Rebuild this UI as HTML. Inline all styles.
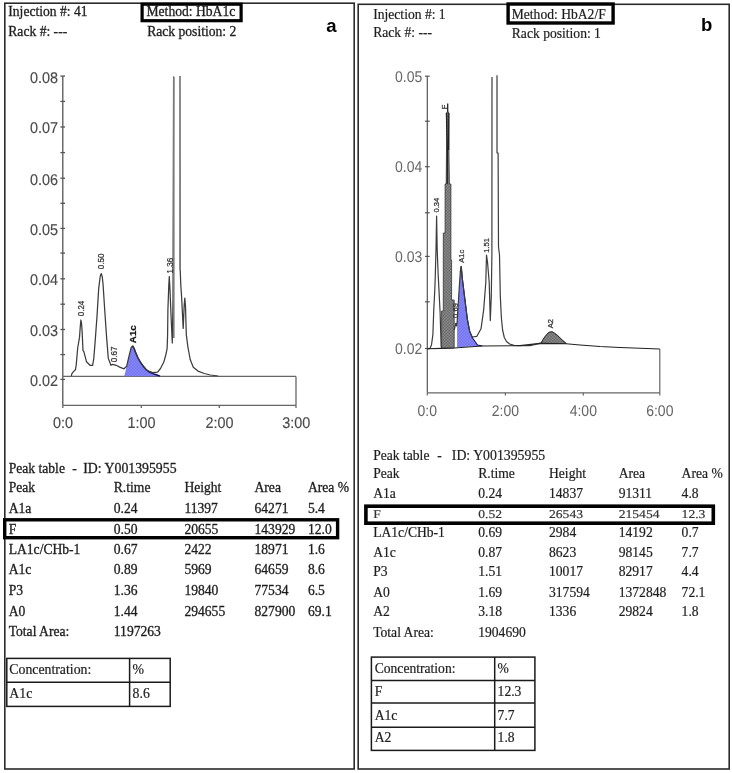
<!DOCTYPE html>
<html><head><meta charset="utf-8"><title>HbA1c chromatograms</title>
<style>
html,body{margin:0;padding:0;background:#fff;}
body{width:732px;height:773px;overflow:hidden;font-family:"Liberation Serif",serif;}
svg{display:block;filter:blur(0.45px);}
</style></head><body>
<svg width="732" height="773" viewBox="0 0 732 773">
<rect width="732" height="773" fill="#fff"/>
<defs>
<pattern id="blue" width="3" height="3" patternUnits="userSpaceOnUse"><rect width="3" height="3" fill="#7474f2"/><rect width="1.5" height="1.5" fill="#8888f6"/><rect x="1.5" y="1.5" width="1.5" height="1.5" fill="#8888f6"/></pattern>
<pattern id="grey" width="3" height="3" patternUnits="userSpaceOnUse"><rect width="3" height="3" fill="#6a6a6a"/><rect width="1.5" height="1.5" fill="#8a8a8a"/><rect x="1.5" y="1.5" width="1.5" height="1.5" fill="#8a8a8a"/></pattern>
</defs>
<rect x="4.8" y="3.2" width="349.4" height="765.8" fill="none" stroke="#2b2b2b" stroke-width="1.6"/>
<rect x="358.2" y="4.3" width="371" height="764.7" fill="none" stroke="#2b2b2b" stroke-width="1.6"/>
<text x="8.3" y="16.0" font-family='"Liberation Serif", serif' font-size="13.6" fill="#1e1e1e" stroke="#1e1e1e" stroke-width="0.3" >Injection #: 41</text>
<text x="8.3" y="36.3" font-family='"Liberation Serif", serif' font-size="13.6" fill="#1e1e1e" stroke="#1e1e1e" stroke-width="0.3" >Rack #: ---</text>
<text x="146.5" y="16.0" font-family='"Liberation Serif", serif' font-size="13.6" fill="#1e1e1e" stroke="#1e1e1e" stroke-width="0.3" >Method: HbA1c</text>
<text x="147.2" y="36.3" font-family='"Liberation Serif", serif' font-size="13.6" fill="#1e1e1e" stroke="#1e1e1e" stroke-width="0.3" >Rack position: 2</text>
<text x="326.3" y="31.6" font-family='"Liberation Sans", sans-serif' font-size="18.5" fill="#000"  font-weight="bold">a</text>
<rect x="142.1" y="4.2" width="99" height="16.5" fill="none" stroke="#000" stroke-width="3.2"/>
<text x="373.2" y="18.6" font-family='"Liberation Serif", serif' font-size="13.6" fill="#1e1e1e" stroke="#1e1e1e" stroke-width="0.2" >Injection #: 1</text>
<text x="373.2" y="37.3" font-family='"Liberation Serif", serif' font-size="13.6" fill="#1e1e1e" stroke="#1e1e1e" stroke-width="0.2" >Rack #: ---</text>
<text x="511.7" y="18.6" font-family='"Liberation Serif", serif' font-size="13.6" fill="#1e1e1e" stroke="#1e1e1e" stroke-width="0.2" >Method: HbA2/F</text>
<text x="511.8" y="37.5" font-family='"Liberation Serif", serif' font-size="13.6" fill="#1e1e1e" stroke="#1e1e1e" stroke-width="0.2" >Rack position: 1</text>
<text x="701.0" y="31.4" font-family='"Liberation Sans", sans-serif' font-size="18.5" fill="#000"  font-weight="bold">b</text>
<rect x="508.1" y="4.0" width="105" height="19.0" fill="none" stroke="#000" stroke-width="3.4"/>
<g stroke="#555" stroke-width="1.3" fill="none">
<line x1="62.8" y1="76.1" x2="62.8" y2="405.4"/>
<line x1="60.4" y1="76.1" x2="65.0" y2="76.1"/>
<line x1="60.4" y1="101.4" x2="65.0" y2="101.4"/>
<line x1="60.4" y1="127.0" x2="65.0" y2="127.0"/>
<line x1="60.4" y1="152.6" x2="65.0" y2="152.6"/>
<line x1="60.4" y1="178.2" x2="65.0" y2="178.2"/>
<line x1="60.4" y1="203.3" x2="65.0" y2="203.3"/>
<line x1="60.4" y1="228.4" x2="65.0" y2="228.4"/>
<line x1="60.4" y1="253.1" x2="65.0" y2="253.1"/>
<line x1="60.4" y1="278.8" x2="65.0" y2="278.8"/>
<line x1="60.4" y1="304.2" x2="65.0" y2="304.2"/>
<line x1="60.4" y1="329.5" x2="65.0" y2="329.5"/>
<line x1="60.4" y1="354.6" x2="65.0" y2="354.6"/>
<line x1="60.4" y1="379.4" x2="65.0" y2="379.4"/>
</g>
<text x="0" y="0" transform="translate(58.0,82.5) scale(1,1.08)" font-family='"Liberation Sans", sans-serif' font-size="14.4" fill="#4a4a4a" stroke="#4a4a4a" stroke-width="0.15" text-rendering="geometricPrecision" text-anchor="end">0.08</text>
<text x="0" y="0" transform="translate(58.0,133.4) scale(1,1.08)" font-family='"Liberation Sans", sans-serif' font-size="14.4" fill="#4a4a4a" stroke="#4a4a4a" stroke-width="0.15" text-rendering="geometricPrecision" text-anchor="end">0.07</text>
<text x="0" y="0" transform="translate(58.0,184.6) scale(1,1.08)" font-family='"Liberation Sans", sans-serif' font-size="14.4" fill="#4a4a4a" stroke="#4a4a4a" stroke-width="0.15" text-rendering="geometricPrecision" text-anchor="end">0.06</text>
<text x="0" y="0" transform="translate(58.0,234.8) scale(1,1.08)" font-family='"Liberation Sans", sans-serif' font-size="14.4" fill="#4a4a4a" stroke="#4a4a4a" stroke-width="0.15" text-rendering="geometricPrecision" text-anchor="end">0.05</text>
<text x="0" y="0" transform="translate(58.0,285.2) scale(1,1.08)" font-family='"Liberation Sans", sans-serif' font-size="14.4" fill="#4a4a4a" stroke="#4a4a4a" stroke-width="0.15" text-rendering="geometricPrecision" text-anchor="end">0.04</text>
<text x="0" y="0" transform="translate(58.0,335.9) scale(1,1.08)" font-family='"Liberation Sans", sans-serif' font-size="14.4" fill="#4a4a4a" stroke="#4a4a4a" stroke-width="0.15" text-rendering="geometricPrecision" text-anchor="end">0.03</text>
<text x="0" y="0" transform="translate(58.0,385.8) scale(1,1.08)" font-family='"Liberation Sans", sans-serif' font-size="14.4" fill="#4a4a4a" stroke="#4a4a4a" stroke-width="0.15" text-rendering="geometricPrecision" text-anchor="end">0.02</text>
<g stroke="#666" stroke-width="1.3" fill="none">
<line x1="62.8" y1="376.4" x2="296" y2="376.4"/>
<line x1="296" y1="376.4" x2="296" y2="405.4"/>
<line x1="62.8" y1="405.4" x2="296" y2="405.4"/>
<line x1="62.8" y1="405.4" x2="62.8" y2="408.0"/>
<line x1="141.3" y1="405.4" x2="141.3" y2="408.0"/>
<line x1="219.3" y1="405.4" x2="219.3" y2="408.0"/>
<line x1="296.0" y1="405.4" x2="296.0" y2="408.0"/>
</g>
<text x="0" y="0" transform="translate(63.1,428.2) scale(1,1.08)" font-family='"Liberation Sans", sans-serif' font-size="14.4" fill="#4a4a4a" stroke="#4a4a4a" stroke-width="0.15" text-rendering="geometricPrecision" text-anchor="middle">0:0</text>
<text x="0" y="0" transform="translate(141.6,428.2) scale(1,1.08)" font-family='"Liberation Sans", sans-serif' font-size="14.4" fill="#4a4a4a" stroke="#4a4a4a" stroke-width="0.15" text-rendering="geometricPrecision" text-anchor="middle">1:00</text>
<text x="0" y="0" transform="translate(219.6,428.2) scale(1,1.08)" font-family='"Liberation Sans", sans-serif' font-size="14.4" fill="#4a4a4a" stroke="#4a4a4a" stroke-width="0.15" text-rendering="geometricPrecision" text-anchor="middle">2:00</text>
<text x="0" y="0" transform="translate(296.3,428.2) scale(1,1.08)" font-family='"Liberation Sans", sans-serif' font-size="14.4" fill="#4a4a4a" stroke="#4a4a4a" stroke-width="0.15" text-rendering="geometricPrecision" text-anchor="middle">3:00</text>
<polygon points="124.2,376.2 126.7,366.2 129.3,354.9 131.2,347.5 132.6,345.9 134.2,348.5 135.4,352.1 138.0,358.0 140.5,362.3 143.5,366.5 146.0,369.5 149.0,371.8 153.0,373.6 157.0,375.0 160.0,376.2" fill="url(#blue)" stroke="none"/>
<polyline points="132.6,345.9 134.2,348.5 135.4,352.1 138.0,358.0 140.5,362.3 143.5,366.5 146.0,369.5 149.0,371.8 153.0,373.6 157.0,375.0 160.0,376.2" fill="none" stroke="#141450" stroke-width="1.4"/>
<polyline points="71.3,376.0 71.9,373.7 73.5,371.6 75.4,369.8 76.2,365.0 77.7,348.0 79.5,337.4 80.4,325.0 80.9,320.0 81.5,323.0 82.1,331.0 83.0,350.5 83.8,351.4 86.5,361.8 90.0,365.3 92.6,365.3 93.8,358.4 95.2,340.9 97.0,316.4 98.7,288.4 100.3,276.0 101.3,273.6 102.3,277.0 103.1,285.0 104.8,311.2 106.6,337.4 108.3,358.4 110.9,365.3 112.7,364.3 116.2,365.3 119.7,367.1 124.0,368.8 126.7,366.2 129.3,354.9 131.2,347.5 132.6,345.9 134.2,348.5 135.4,352.1 138.0,358.0 140.5,362.3 143.5,366.5 146.0,369.5 148.7,371.2 152.8,372.6 157.6,372.2 160.5,368.5 163.7,362.3 165.8,355.0 167.1,348.7 167.6,335.0 167.9,310.0 168.8,285.0 169.3,276.5 170.0,290.0 171.0,315.0 172.3,343.0 173.0,300.0 173.6,76.5" fill="none" stroke="#3c3c3c" stroke-width="1.25" stroke-linejoin="round"/>
<polyline points="179.9,76.0 180.2,270.0 180.8,285.0 181.6,297.0 183.2,328.4 184.2,305.0 184.8,298.1 185.5,306.6 186.3,334.6 187.9,347.0 190.2,359.5 193.3,367.3 198.0,371.1 204.2,373.5 210.4,375.0 218.2,376.0" fill="none" stroke="#3c3c3c" stroke-width="1.25" stroke-linejoin="round"/>
<line x1="173.8" y1="77" x2="173.8" y2="338" stroke="#7a7a7a" stroke-width="1.6"/>
<line x1="179.8" y1="76.2" x2="179.8" y2="270" stroke="#8a8a8a" stroke-width="1.6"/>
<text x="0" y="0" font-family='"Liberation Sans", sans-serif' font-size="9.2" fill="#333" stroke="#333" stroke-width="0.25"  text-anchor="middle" transform="translate(83.6,308.5) rotate(-90) scale(0.88,1)">0.24</text>
<text x="0" y="0" font-family='"Liberation Sans", sans-serif' font-size="9.2" fill="#333" stroke="#333" stroke-width="0.25"  text-anchor="middle" transform="translate(104.3,261.4) rotate(-90) scale(0.88,1)">0.50</text>
<text x="0" y="0" font-family='"Liberation Sans", sans-serif' font-size="9.2" fill="#333" stroke="#333" stroke-width="0.25"  text-anchor="middle" transform="translate(116.7,354.4) rotate(-90) scale(0.88,1)">0.67</text>
<text x="0" y="0" font-family='"Liberation Sans", sans-serif' font-size="9.8" fill="#111" stroke="#111" stroke-width="0.25" font-weight="bold" text-anchor="middle" transform="translate(135.5,334.2) rotate(-90) scale(1.0,1)">A1c</text>
<text x="0" y="0" font-family='"Liberation Sans", sans-serif' font-size="9.2" fill="#333" stroke="#333" stroke-width="0.25"  text-anchor="middle" transform="translate(172.5,265.7) rotate(-90) scale(0.88,1)">1.36</text>
<g stroke="#555" stroke-width="1.2" fill="none">
<line x1="427.3" y1="76.2" x2="427.3" y2="392.8"/>
<line x1="425.0" y1="76.2" x2="429.7" y2="76.2"/>
<line x1="425.0" y1="121.2" x2="429.7" y2="121.2"/>
<line x1="425.0" y1="166.7" x2="429.7" y2="166.7"/>
<line x1="425.0" y1="212.8" x2="429.7" y2="212.8"/>
<line x1="425.0" y1="256.4" x2="429.7" y2="256.4"/>
<line x1="425.0" y1="301.8" x2="429.7" y2="301.8"/>
<line x1="425.0" y1="348.5" x2="429.7" y2="348.5"/>
</g>
<text x="0" y="0" transform="translate(422.2,81.8) scale(1,1.11)" font-family='"Liberation Sans", sans-serif' font-size="14.0" fill="#666"  text-rendering="geometricPrecision" text-anchor="end">0.05</text>
<text x="0" y="0" transform="translate(422.2,172.3) scale(1,1.11)" font-family='"Liberation Sans", sans-serif' font-size="14.0" fill="#666"  text-rendering="geometricPrecision" text-anchor="end">0.04</text>
<text x="0" y="0" transform="translate(422.2,262.0) scale(1,1.11)" font-family='"Liberation Sans", sans-serif' font-size="14.0" fill="#666"  text-rendering="geometricPrecision" text-anchor="end">0.03</text>
<text x="0" y="0" transform="translate(422.2,354.1) scale(1,1.11)" font-family='"Liberation Sans", sans-serif' font-size="14.0" fill="#666"  text-rendering="geometricPrecision" text-anchor="end">0.02</text>
<g stroke="#666" stroke-width="1.2" fill="none">
<line x1="427.3" y1="392.8" x2="659.8" y2="392.8"/>
<line x1="659.8" y1="349" x2="659.8" y2="392.8"/>
<line x1="427.3" y1="392.8" x2="427.3" y2="395.4"/>
<line x1="505.4" y1="392.8" x2="505.4" y2="395.4"/>
<line x1="583.3" y1="392.8" x2="583.3" y2="395.4"/>
<line x1="659.8" y1="392.8" x2="659.8" y2="395.4"/>
</g>
<text x="0" y="0" transform="translate(427.3,415.8) scale(1,1.11)" font-family='"Liberation Sans", sans-serif' font-size="14.0" fill="#636363"  text-rendering="geometricPrecision" text-anchor="middle">0:0</text>
<text x="0" y="0" transform="translate(505.4,415.8) scale(1,1.11)" font-family='"Liberation Sans", sans-serif' font-size="14.0" fill="#636363"  text-rendering="geometricPrecision" text-anchor="middle">2:00</text>
<text x="0" y="0" transform="translate(583.3,415.8) scale(1,1.11)" font-family='"Liberation Sans", sans-serif' font-size="14.0" fill="#636363"  text-rendering="geometricPrecision" text-anchor="middle">4:00</text>
<text x="0" y="0" transform="translate(659.8,415.8) scale(1,1.11)" font-family='"Liberation Sans", sans-serif' font-size="14.0" fill="#636363"  text-rendering="geometricPrecision" text-anchor="middle">6:00</text>
<polygon points="441.6,348.4 441.6,311.0 443.3,311.0 443.3,233.0 445.1,233.0 445.1,184.0 446.2,184.0 446.5,150.0 446.9,112.0 448.6,112.0 448.9,150.0 449.4,184.0 450.9,184.0 450.9,260.0 451.6,260.0 451.6,300.0 454.2,300.0 454.2,348.0" fill="url(#grey)" stroke="#333" stroke-width="0.8"/>
<path d="M447.7 103.5 L447.7 112 M446.4 113 L447.4 150 L447.2 184 M448.9 113 L448.6 150" stroke="#222" stroke-width="1.3" fill="none"/>
<polygon points="457.1,347.2 457.1,322.7 459.1,290.0 460.3,272.0 461.2,266.4 462.5,280.0 464.9,299.4 467.3,318.8 469.7,331.5 472.7,338.3 477.5,345.0 482.4,346.0" fill="url(#blue)" stroke="none"/>
<polyline points="460.3,272.0 461.2,266.4 462.5,280.0 464.9,299.4 467.3,318.8 469.7,331.5 472.7,338.3 477.5,345.0 482.4,346.0" fill="none" stroke="#141450" stroke-width="1.1"/>
<polygon points="541.0,343.2 543.0,339.5 545.0,336.6 548.5,332.5 551.9,331.7 554.5,333.2 557.4,335.3 562.2,340.0 566.3,343.5 553.0,343.4" fill="url(#grey)" stroke="#444" stroke-width="0.8"/>
<polyline points="427.5,348.8 430.0,348.3 431.5,345.0 432.9,334.4 433.8,309.0 434.8,289.7 435.3,275.0 436.0,250.0 436.6,216.0 437.2,250.0 438.2,275.0 439.2,294.6 440.1,312.0 440.6,328.5 441.1,346.0 441.6,348.4" fill="none" stroke="#3c3c3c" stroke-width="1.2" stroke-linejoin="round"/>
<polyline points="454.2,330.0 455.7,323.3 456.6,326.0 457.1,322.7 459.1,290.0 460.3,272.0 461.2,266.4 462.5,280.0 464.9,299.4 467.3,318.8 469.7,331.5 472.1,337.0 476.9,336.3 481.0,328.8 483.7,309.6 485.8,282.3 486.5,255.0 487.5,262.0 489.2,282.3 490.3,320.6 491.3,296.0 491.9,255.0 492.0,77.0" fill="none" stroke="#3c3c3c" stroke-width="1.2" stroke-linejoin="round"/>
<polyline points="497.0,75.3 497.0,152.8 498.1,153.0 498.5,246.7 499.5,255.0 500.3,296.0 501.4,318.0 502.6,330.0 504.3,337.5 506.5,341.5 509.6,344.0 514.0,345.3 520.6,345.6 530.0,345.6 541.0,343.2" fill="none" stroke="#3c3c3c" stroke-width="1.2" stroke-linejoin="round"/>
<polyline points="427.5,348.8 441.6,348.4 454.2,348.0 482.4,346.0 520.0,345.6 540.0,343.4 566.2,343.7 580.0,345.0 600.0,346.5 620.0,347.5 640.0,348.3 659.8,349.0" fill="none" stroke="#222" stroke-width="1.1" stroke-linejoin="round"/>
<polyline points="541.0,343.2 543.0,339.5 545.0,336.6 548.5,332.5 551.9,331.7 554.5,333.2 557.4,335.3 562.2,340.0 566.3,343.5" fill="none" stroke="#333" stroke-width="1"/>
<text x="0" y="0" font-family='"Liberation Sans", sans-serif' font-size="7.6" fill="#333" stroke="#333" stroke-width="0.25"  text-anchor="middle" transform="translate(438.7,205.2) rotate(-90) scale(1.0,1)">0.34</text>
<text x="0" y="0" font-family='"Liberation Sans", sans-serif' font-size="7.6" fill="#333" stroke="#333" stroke-width="0.25"  text-anchor="middle" transform="translate(447.3,107.0) rotate(-90) scale(1.0,1)">F</text>
<text x="0" y="0" font-family='"Liberation Sans", sans-serif' font-size="7.6" fill="#333" stroke="#333" stroke-width="0.25"  text-anchor="middle" transform="translate(457.7,310.5) rotate(-90) scale(1.0,1)">0.69</text>
<text x="0" y="0" font-family='"Liberation Sans", sans-serif' font-size="7.6" fill="#333" stroke="#333" stroke-width="0.25"  text-anchor="middle" transform="translate(463.7,256.3) rotate(-90) scale(1.0,1)">A1c</text>
<text x="0" y="0" font-family='"Liberation Sans", sans-serif' font-size="7.6" fill="#333" stroke="#333" stroke-width="0.25"  text-anchor="middle" transform="translate(488.5,245.4) rotate(-90) scale(1.0,1)">1.51</text>
<text x="0" y="0" font-family='"Liberation Sans", sans-serif' font-size="7.6" fill="#333" stroke="#333" stroke-width="0.25"  text-anchor="middle" transform="translate(552.5,323.6) rotate(-90) scale(1.0,1)">A2</text>
<text x="8.7" y="472.8" font-family='"Liberation Serif", serif' font-size="13.6" fill="#1e1e1e" stroke="#1e1e1e" stroke-width="0.3" >Peak table</text>
<text x="72.2" y="472.8" font-family='"Liberation Serif", serif' font-size="13.6" fill="#1e1e1e" stroke="#1e1e1e" stroke-width="0.3" >-</text>
<text x="83.2" y="472.8" font-family='"Liberation Serif", serif' font-size="13.8" fill="#1e1e1e" stroke="#1e1e1e" stroke-width="0.3" >ID: Y001395955</text>
<text x="8.7" y="492.4" font-family='"Liberation Serif", serif' font-size="13.6" fill="#1e1e1e" stroke="#1e1e1e" stroke-width="0.3" >Peak</text>
<text x="113.8" y="492.4" font-family='"Liberation Serif", serif' font-size="13.6" fill="#1e1e1e" stroke="#1e1e1e" stroke-width="0.3" >R.time</text>
<text x="184.4" y="492.4" font-family='"Liberation Serif", serif' font-size="13.6" fill="#1e1e1e" stroke="#1e1e1e" stroke-width="0.3" >Height</text>
<text x="254.5" y="492.4" font-family='"Liberation Serif", serif' font-size="13.6" fill="#1e1e1e" stroke="#1e1e1e" stroke-width="0.3" >Area</text>
<text x="307.9" y="492.4" font-family='"Liberation Serif", serif' font-size="13.6" fill="#1e1e1e" stroke="#1e1e1e" stroke-width="0.3" >Area %</text>
<text x="8.7" y="512.8" font-family='"Liberation Serif", serif' font-size="13.6" fill="#1e1e1e" stroke="#1e1e1e" stroke-width="0.3" >A1a</text>
<text x="113.8" y="512.8" font-family='"Liberation Serif", serif' font-size="13.6" fill="#1e1e1e" stroke="#1e1e1e" stroke-width="0.3" >0.24</text>
<text x="184.4" y="512.8" font-family='"Liberation Serif", serif' font-size="13.6" fill="#1e1e1e" stroke="#1e1e1e" stroke-width="0.3" >11397</text>
<text x="254.5" y="512.8" font-family='"Liberation Serif", serif' font-size="13.6" fill="#1e1e1e" stroke="#1e1e1e" stroke-width="0.3" >64271</text>
<text x="307.9" y="512.8" font-family='"Liberation Serif", serif' font-size="13.6" fill="#1e1e1e" stroke="#1e1e1e" stroke-width="0.3" >5.4</text>
<text x="8.7" y="534.1" font-family='"Liberation Serif", serif' font-size="13.6" fill="#1e1e1e" stroke="#1e1e1e" stroke-width="0.3" >F</text>
<text x="113.8" y="534.1" font-family='"Liberation Serif", serif' font-size="13.6" fill="#1e1e1e" stroke="#1e1e1e" stroke-width="0.3" >0.50</text>
<text x="184.4" y="534.1" font-family='"Liberation Serif", serif' font-size="13.6" fill="#1e1e1e" stroke="#1e1e1e" stroke-width="0.3" >20655</text>
<text x="254.5" y="534.1" font-family='"Liberation Serif", serif' font-size="13.6" fill="#1e1e1e" stroke="#1e1e1e" stroke-width="0.3" >143929</text>
<text x="307.9" y="534.1" font-family='"Liberation Serif", serif' font-size="13.6" fill="#1e1e1e" stroke="#1e1e1e" stroke-width="0.3" >12.0</text>
<text x="8.7" y="554.4" font-family='"Liberation Serif", serif' font-size="13.6" fill="#1e1e1e" stroke="#1e1e1e" stroke-width="0.3" >LA1c/CHb-1</text>
<text x="113.8" y="554.4" font-family='"Liberation Serif", serif' font-size="13.6" fill="#1e1e1e" stroke="#1e1e1e" stroke-width="0.3" >0.67</text>
<text x="184.4" y="554.4" font-family='"Liberation Serif", serif' font-size="13.6" fill="#1e1e1e" stroke="#1e1e1e" stroke-width="0.3" >2422</text>
<text x="254.5" y="554.4" font-family='"Liberation Serif", serif' font-size="13.6" fill="#1e1e1e" stroke="#1e1e1e" stroke-width="0.3" >18971</text>
<text x="307.9" y="554.4" font-family='"Liberation Serif", serif' font-size="13.6" fill="#1e1e1e" stroke="#1e1e1e" stroke-width="0.3" >1.6</text>
<text x="8.7" y="574.3" font-family='"Liberation Serif", serif' font-size="13.6" fill="#1e1e1e" stroke="#1e1e1e" stroke-width="0.3" >A1c</text>
<text x="113.8" y="574.3" font-family='"Liberation Serif", serif' font-size="13.6" fill="#1e1e1e" stroke="#1e1e1e" stroke-width="0.3" >0.89</text>
<text x="184.4" y="574.3" font-family='"Liberation Serif", serif' font-size="13.6" fill="#1e1e1e" stroke="#1e1e1e" stroke-width="0.3" >5969</text>
<text x="254.5" y="574.3" font-family='"Liberation Serif", serif' font-size="13.6" fill="#1e1e1e" stroke="#1e1e1e" stroke-width="0.3" >64659</text>
<text x="307.9" y="574.3" font-family='"Liberation Serif", serif' font-size="13.6" fill="#1e1e1e" stroke="#1e1e1e" stroke-width="0.3" >8.6</text>
<text x="8.7" y="594.8" font-family='"Liberation Serif", serif' font-size="13.6" fill="#1e1e1e" stroke="#1e1e1e" stroke-width="0.3" >P3</text>
<text x="113.8" y="594.8" font-family='"Liberation Serif", serif' font-size="13.6" fill="#1e1e1e" stroke="#1e1e1e" stroke-width="0.3" >1.36</text>
<text x="184.4" y="594.8" font-family='"Liberation Serif", serif' font-size="13.6" fill="#1e1e1e" stroke="#1e1e1e" stroke-width="0.3" >19840</text>
<text x="254.5" y="594.8" font-family='"Liberation Serif", serif' font-size="13.6" fill="#1e1e1e" stroke="#1e1e1e" stroke-width="0.3" >77534</text>
<text x="307.9" y="594.8" font-family='"Liberation Serif", serif' font-size="13.6" fill="#1e1e1e" stroke="#1e1e1e" stroke-width="0.3" >6.5</text>
<text x="8.7" y="615.6" font-family='"Liberation Serif", serif' font-size="13.6" fill="#1e1e1e" stroke="#1e1e1e" stroke-width="0.3" >A0</text>
<text x="113.8" y="615.6" font-family='"Liberation Serif", serif' font-size="13.6" fill="#1e1e1e" stroke="#1e1e1e" stroke-width="0.3" >1.44</text>
<text x="184.4" y="615.6" font-family='"Liberation Serif", serif' font-size="13.6" fill="#1e1e1e" stroke="#1e1e1e" stroke-width="0.3" >294655</text>
<text x="254.5" y="615.6" font-family='"Liberation Serif", serif' font-size="13.6" fill="#1e1e1e" stroke="#1e1e1e" stroke-width="0.3" >827900</text>
<text x="307.9" y="615.6" font-family='"Liberation Serif", serif' font-size="13.6" fill="#1e1e1e" stroke="#1e1e1e" stroke-width="0.3" >69.1</text>
<text x="8.7" y="636.0" font-family='"Liberation Serif", serif' font-size="13.6" fill="#1e1e1e" stroke="#1e1e1e" stroke-width="0.3" >Total Area:</text>
<text x="113.8" y="636.0" font-family='"Liberation Serif", serif' font-size="13.6" fill="#1e1e1e" stroke="#1e1e1e" stroke-width="0.3" >1197263</text>
<rect x="4.7" y="519.8" width="332.9" height="17.9" fill="none" stroke="#000" stroke-width="3.4"/>
<text x="373.2" y="459.6" font-family='"Liberation Serif", serif' font-size="13.6" fill="#1e1e1e" stroke="#1e1e1e" stroke-width="0.2" >Peak table</text>
<text x="437.3" y="459.6" font-family='"Liberation Serif", serif' font-size="13.6" fill="#1e1e1e" stroke="#1e1e1e" stroke-width="0.2" >-</text>
<text x="451.8" y="459.6" font-family='"Liberation Serif", serif' font-size="13.8" fill="#1e1e1e" stroke="#1e1e1e" stroke-width="0.2" >ID: Y001395955</text>
<text x="373.2" y="478.3" font-family='"Liberation Serif", serif' font-size="13.6" fill="#1e1e1e" stroke="#1e1e1e" stroke-width="0.2" >Peak</text>
<text x="478.2" y="478.3" font-family='"Liberation Serif", serif' font-size="13.6" fill="#1e1e1e" stroke="#1e1e1e" stroke-width="0.2" >R.time</text>
<text x="549.0" y="478.3" font-family='"Liberation Serif", serif' font-size="13.6" fill="#1e1e1e" stroke="#1e1e1e" stroke-width="0.2" >Height</text>
<text x="618.7" y="478.3" font-family='"Liberation Serif", serif' font-size="13.6" fill="#1e1e1e" stroke="#1e1e1e" stroke-width="0.2" >Area</text>
<text x="681.6" y="478.3" font-family='"Liberation Serif", serif' font-size="13.6" fill="#1e1e1e" stroke="#1e1e1e" stroke-width="0.2" >Area %</text>
<text x="373.2" y="497.9" font-family='"Liberation Serif", serif' font-size="13.6" fill="#1e1e1e" stroke="#1e1e1e" stroke-width="0.2" >A1a</text>
<text x="478.2" y="497.9" font-family='"Liberation Serif", serif' font-size="13.6" fill="#1e1e1e" stroke="#1e1e1e" stroke-width="0.2" >0.24</text>
<text x="549.0" y="497.9" font-family='"Liberation Serif", serif' font-size="13.6" fill="#1e1e1e" stroke="#1e1e1e" stroke-width="0.2" >14837</text>
<text x="618.7" y="497.9" font-family='"Liberation Serif", serif' font-size="13.6" fill="#1e1e1e" stroke="#1e1e1e" stroke-width="0.2" >91311</text>
<text x="681.6" y="497.9" font-family='"Liberation Serif", serif' font-size="13.6" fill="#1e1e1e" stroke="#1e1e1e" stroke-width="0.2" >4.8</text>
<text x="0" y="0" transform="translate(373.2,517.9) scale(1,0.88)" font-family='"Liberation Serif", serif' font-size="13.6" fill="#333" stroke="#333" stroke-width="0.2" text-rendering="geometricPrecision" >F</text>
<text x="0" y="0" transform="translate(478.2,517.9) scale(1,0.88)" font-family='"Liberation Serif", serif' font-size="13.6" fill="#333" stroke="#333" stroke-width="0.2" text-rendering="geometricPrecision" >0.52</text>
<text x="0" y="0" transform="translate(549.0,517.9) scale(1,0.88)" font-family='"Liberation Serif", serif' font-size="13.6" fill="#333" stroke="#333" stroke-width="0.2" text-rendering="geometricPrecision" >26543</text>
<text x="0" y="0" transform="translate(618.7,517.9) scale(1,0.88)" font-family='"Liberation Serif", serif' font-size="13.6" fill="#333" stroke="#333" stroke-width="0.2" text-rendering="geometricPrecision" >215454</text>
<text x="0" y="0" transform="translate(681.6,517.9) scale(1,0.88)" font-family='"Liberation Serif", serif' font-size="13.6" fill="#333" stroke="#333" stroke-width="0.2" text-rendering="geometricPrecision" >12.3</text>
<text x="373.2" y="537.0" font-family='"Liberation Serif", serif' font-size="13.6" fill="#1e1e1e" stroke="#1e1e1e" stroke-width="0.2" >LA1c/CHb-1</text>
<text x="478.2" y="537.0" font-family='"Liberation Serif", serif' font-size="13.6" fill="#1e1e1e" stroke="#1e1e1e" stroke-width="0.2" >0.69</text>
<text x="549.0" y="537.0" font-family='"Liberation Serif", serif' font-size="13.6" fill="#1e1e1e" stroke="#1e1e1e" stroke-width="0.2" >2984</text>
<text x="618.7" y="537.0" font-family='"Liberation Serif", serif' font-size="13.6" fill="#1e1e1e" stroke="#1e1e1e" stroke-width="0.2" >14192</text>
<text x="681.6" y="537.0" font-family='"Liberation Serif", serif' font-size="13.6" fill="#1e1e1e" stroke="#1e1e1e" stroke-width="0.2" >0.7</text>
<text x="373.2" y="557.0" font-family='"Liberation Serif", serif' font-size="13.6" fill="#1e1e1e" stroke="#1e1e1e" stroke-width="0.2" >A1c</text>
<text x="478.2" y="557.0" font-family='"Liberation Serif", serif' font-size="13.6" fill="#1e1e1e" stroke="#1e1e1e" stroke-width="0.2" >0.87</text>
<text x="549.0" y="557.0" font-family='"Liberation Serif", serif' font-size="13.6" fill="#1e1e1e" stroke="#1e1e1e" stroke-width="0.2" >8623</text>
<text x="618.7" y="557.0" font-family='"Liberation Serif", serif' font-size="13.6" fill="#1e1e1e" stroke="#1e1e1e" stroke-width="0.2" >98145</text>
<text x="681.6" y="557.0" font-family='"Liberation Serif", serif' font-size="13.6" fill="#1e1e1e" stroke="#1e1e1e" stroke-width="0.2" >7.7</text>
<text x="373.2" y="576.0" font-family='"Liberation Serif", serif' font-size="13.6" fill="#1e1e1e" stroke="#1e1e1e" stroke-width="0.2" >P3</text>
<text x="478.2" y="576.0" font-family='"Liberation Serif", serif' font-size="13.6" fill="#1e1e1e" stroke="#1e1e1e" stroke-width="0.2" >1.51</text>
<text x="549.0" y="576.0" font-family='"Liberation Serif", serif' font-size="13.6" fill="#1e1e1e" stroke="#1e1e1e" stroke-width="0.2" >10017</text>
<text x="618.7" y="576.0" font-family='"Liberation Serif", serif' font-size="13.6" fill="#1e1e1e" stroke="#1e1e1e" stroke-width="0.2" >82917</text>
<text x="681.6" y="576.0" font-family='"Liberation Serif", serif' font-size="13.6" fill="#1e1e1e" stroke="#1e1e1e" stroke-width="0.2" >4.4</text>
<text x="373.2" y="596.6" font-family='"Liberation Serif", serif' font-size="13.6" fill="#1e1e1e" stroke="#1e1e1e" stroke-width="0.2" >A0</text>
<text x="478.2" y="596.6" font-family='"Liberation Serif", serif' font-size="13.6" fill="#1e1e1e" stroke="#1e1e1e" stroke-width="0.2" >1.69</text>
<text x="549.0" y="596.6" font-family='"Liberation Serif", serif' font-size="13.6" fill="#1e1e1e" stroke="#1e1e1e" stroke-width="0.2" >317594</text>
<text x="618.7" y="596.6" font-family='"Liberation Serif", serif' font-size="13.6" fill="#1e1e1e" stroke="#1e1e1e" stroke-width="0.2" >1372848</text>
<text x="681.6" y="596.6" font-family='"Liberation Serif", serif' font-size="13.6" fill="#1e1e1e" stroke="#1e1e1e" stroke-width="0.2" >72.1</text>
<text x="373.2" y="616.2" font-family='"Liberation Serif", serif' font-size="13.6" fill="#1e1e1e" stroke="#1e1e1e" stroke-width="0.2" >A2</text>
<text x="478.2" y="616.2" font-family='"Liberation Serif", serif' font-size="13.6" fill="#1e1e1e" stroke="#1e1e1e" stroke-width="0.2" >3.18</text>
<text x="549.0" y="616.2" font-family='"Liberation Serif", serif' font-size="13.6" fill="#1e1e1e" stroke="#1e1e1e" stroke-width="0.2" >1336</text>
<text x="618.7" y="616.2" font-family='"Liberation Serif", serif' font-size="13.6" fill="#1e1e1e" stroke="#1e1e1e" stroke-width="0.2" >29824</text>
<text x="681.6" y="616.2" font-family='"Liberation Serif", serif' font-size="13.6" fill="#1e1e1e" stroke="#1e1e1e" stroke-width="0.2" >1.8</text>
<text x="373.2" y="636.7" font-family='"Liberation Serif", serif' font-size="13.6" fill="#1e1e1e" stroke="#1e1e1e" stroke-width="0.2" >Total Area:</text>
<text x="478.2" y="636.7" font-family='"Liberation Serif", serif' font-size="13.6" fill="#1e1e1e" stroke="#1e1e1e" stroke-width="0.2" >1904690</text>
<rect x="365.9" y="506.2" width="347.4" height="17.0" fill="none" stroke="#000" stroke-width="3.6"/>
<g stroke="#1a1a1a" stroke-width="1.5" fill="none">
<rect x="6.8" y="658.4" width="163.4" height="48"/>
<line x1="6.8" y1="682.3" x2="170.2" y2="682.3"/>
<line x1="129.6" y1="658.4" x2="129.6" y2="706.4"/>
<rect x="371.4" y="657.1" width="163.5" height="93.3"/>
<line x1="371.4" y1="680.6" x2="534.9" y2="680.6"/>
<line x1="371.4" y1="703.0" x2="534.9" y2="703.0"/>
<line x1="371.4" y1="727.3" x2="534.9" y2="727.3"/>
<line x1="494.7" y1="657.1" x2="494.7" y2="750.4"/>
</g>
<text x="9.3" y="674.3" font-family='"Liberation Serif", serif' font-size="13.8" fill="#1e1e1e" stroke="#1e1e1e" stroke-width="0.2" >Concentration:</text>
<text x="132.6" y="674.3" font-family='"Liberation Serif", serif' font-size="13.8" fill="#1e1e1e" stroke="#1e1e1e" stroke-width="0.2" >%</text>
<text x="9.3" y="698.3" font-family='"Liberation Serif", serif' font-size="13.8" fill="#1e1e1e" stroke="#1e1e1e" stroke-width="0.2" >A1c</text>
<text x="132.6" y="698.3" font-family='"Liberation Serif", serif' font-size="13.8" fill="#1e1e1e" stroke="#1e1e1e" stroke-width="0.2" >8.6</text>
<text x="374.7" y="672.8" font-family='"Liberation Serif", serif' font-size="13.6" fill="#1e1e1e" stroke="#1e1e1e" stroke-width="0.2" >Concentration:</text>
<text x="497.6" y="672.8" font-family='"Liberation Serif", serif' font-size="13.6" fill="#1e1e1e" stroke="#1e1e1e" stroke-width="0.2" >%</text>
<text x="374.7" y="695.5" font-family='"Liberation Serif", serif' font-size="13.6" fill="#1e1e1e" stroke="#1e1e1e" stroke-width="0.2" >F</text>
<text x="497.6" y="695.5" font-family='"Liberation Serif", serif' font-size="13.6" fill="#1e1e1e" stroke="#1e1e1e" stroke-width="0.2" >12.3</text>
<text x="374.7" y="719.8" font-family='"Liberation Serif", serif' font-size="13.6" fill="#1e1e1e" stroke="#1e1e1e" stroke-width="0.2" >A1c</text>
<text x="497.6" y="719.8" font-family='"Liberation Serif", serif' font-size="13.6" fill="#1e1e1e" stroke="#1e1e1e" stroke-width="0.2" >7.7</text>
<text x="374.7" y="741.8" font-family='"Liberation Serif", serif' font-size="13.6" fill="#1e1e1e" stroke="#1e1e1e" stroke-width="0.2" >A2</text>
<text x="497.6" y="741.8" font-family='"Liberation Serif", serif' font-size="13.6" fill="#1e1e1e" stroke="#1e1e1e" stroke-width="0.2" >1.8</text>
</svg>
</body></html>
